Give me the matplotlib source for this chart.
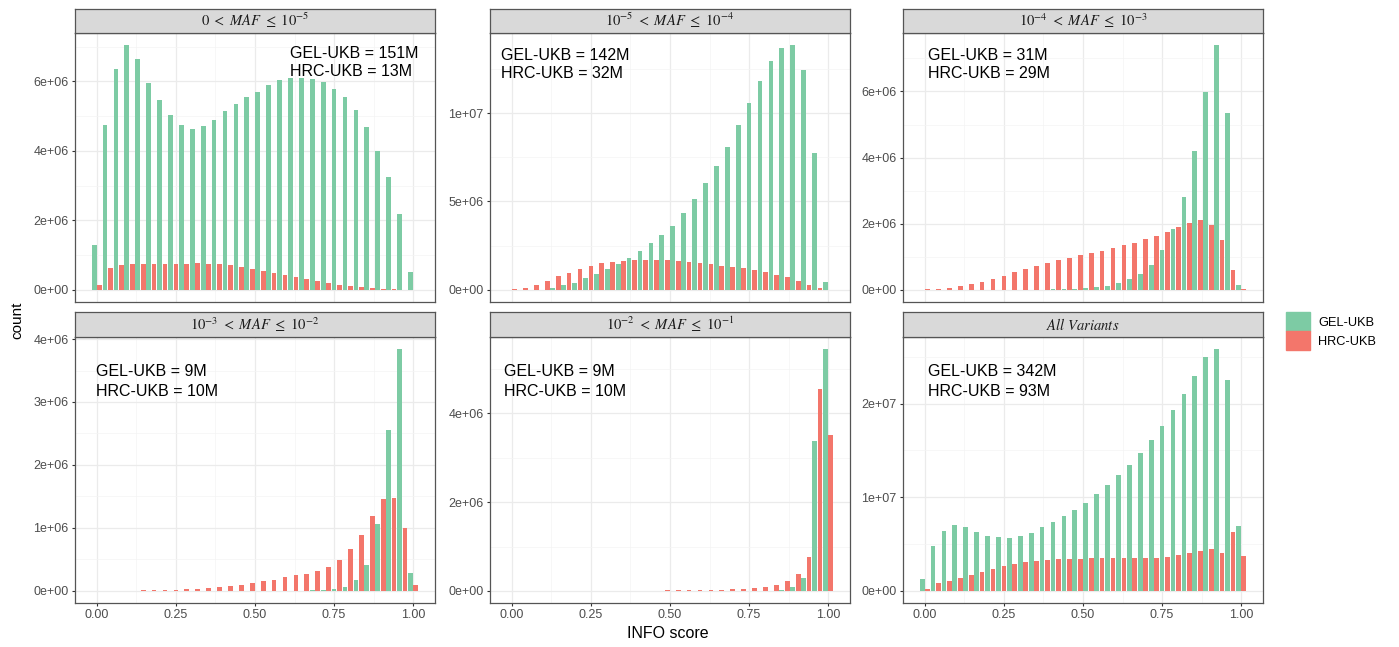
import numpy as np
import matplotlib
matplotlib.use("Agg")
import matplotlib.pyplot as plt
from matplotlib.patches import Patch
from matplotlib.ticker import FixedLocator, FuncFormatter

plt.rcParams["font.family"] = ["Liberation Sans", "DejaVu Sans"]
plt.rcParams["mathtext.fontset"] = "stix"

# 30 bins over INFO score [0, 1]; counts below are in millions
N_BINS = 30
bin_centers = np.arange(N_BINS) / (N_BINS - 1)
bin_width = 1 / (N_BINS - 1)

gel_maf5 = [1.29, 4.75, 6.37, 7.04, 6.64, 5.94, 5.45, 5.02, 4.73, 4.64,
            4.71, 4.90, 5.14, 5.35, 5.54, 5.70, 5.89, 6.03, 6.09, 6.10,
            6.08, 5.98, 5.79, 5.54, 5.17, 4.70, 4.00, 3.25, 2.19, 0.50]
hrc_maf5 = [0.15, 0.62, 0.72, 0.73, 0.73, 0.73, 0.74, 0.75, 0.75, 0.76,
            0.75, 0.74, 0.71, 0.65, 0.60, 0.54, 0.48, 0.42, 0.36, 0.30,
            0.25, 0.20, 0.15, 0.11, 0.07, 0.05, 0.03, 0.015, 0.005, 0.0]

gel_maf4 = [0.0, 0.0, 0.0, 0.0, 0.10, 0.25, 0.40, 0.65, 0.91, 1.18,
            1.45, 1.81, 2.19, 2.63, 3.09, 3.62, 4.32, 5.12, 6.02, 7.01,
            8.10, 9.31, 10.55, 11.81, 12.95, 13.71, 13.85, 12.42, 7.73, 0.42]
hrc_maf4 = [0.04, 0.11, 0.29, 0.51, 0.76, 0.97, 1.18, 1.37, 1.49, 1.58,
            1.64, 1.68, 1.68, 1.68, 1.66, 1.64, 1.58, 1.52, 1.45, 1.37,
            1.30, 1.22, 1.10, 0.99, 0.86, 0.70, 0.50, 0.29, 0.10, 0.0]

gel_maf3 = [0.0, 0.0, 0.0, 0.0, 0.0, 0.0, 0.0, 0.0, 0.0, 0.0,
            0.0, 0.0, 0.01, 0.02, 0.03, 0.05, 0.08, 0.12, 0.19, 0.33,
            0.49, 0.76, 1.20, 1.85, 2.80, 4.19, 5.97, 7.40, 5.36, 0.14]
hrc_maf3 = [0.01, 0.03, 0.05, 0.10, 0.17, 0.24, 0.33, 0.43, 0.53, 0.63,
            0.73, 0.81, 0.90, 0.97, 1.04, 1.10, 1.17, 1.25, 1.34, 1.42,
            1.53, 1.63, 1.76, 1.90, 2.03, 2.10, 1.96, 1.50, 0.61, 0.03]

gel_maf2 = [0.0, 0.0, 0.0, 0.0, 0.0, 0.0, 0.0, 0.0, 0.0, 0.0,
            0.0, 0.0, 0.0, 0.0, 0.0, 0.0, 0.0, 0.0, 0.003, 0.005,
            0.01, 0.02, 0.03, 0.07, 0.17, 0.41, 1.06, 2.55, 3.84, 0.28]
hrc_maf2 = [0.0, 0.001, 0.003, 0.005, 0.008, 0.01, 0.015, 0.02, 0.025, 0.035,
            0.045, 0.06, 0.08, 0.10, 0.13, 0.16, 0.18, 0.22, 0.25, 0.27,
            0.31, 0.38, 0.49, 0.66, 0.88, 1.19, 1.46, 1.47, 1.00, 0.10]

gel_maf1 = [0.0] * 25 + [0.01, 0.08, 0.29, 3.38, 5.45]
hrc_maf1 = [0.0, 0.0, 0.0, 0.0, 0.0, 0.0, 0.0, 0.0, 0.001, 0.002,
            0.003, 0.004, 0.006, 0.008, 0.01, 0.012, 0.015, 0.02, 0.025, 0.03,
            0.04, 0.05, 0.06, 0.08, 0.13, 0.22, 0.38, 0.76, 4.55, 3.51]

gel_all = [1.31, 4.78, 6.37, 7.08, 6.80, 6.27, 5.91, 5.73, 5.66, 5.88,
           6.23, 6.80, 7.40, 8.04, 8.67, 9.42, 10.34, 11.29, 12.35, 13.45,
           14.69, 16.07, 17.56, 19.26, 21.03, 22.97, 24.92, 25.81, 22.51, 6.90]
hrc_all = [0.18, 0.81, 1.10, 1.38, 1.70, 2.02, 2.30, 2.62, 2.83, 3.08,
           3.22, 3.33, 3.40, 3.43, 3.43, 3.47, 3.47, 3.47, 3.47, 3.47,
           3.50, 3.54, 3.65, 3.79, 4.00, 4.28, 4.42, 4.07, 6.34, 3.68]

titles = [r"$0\ <\ MAF\ \leq\ 10^{-5}$", r"$10^{-5}\ <\ MAF\ \leq\ 10^{-4}$",
          r"$10^{-4}\ <\ MAF\ \leq\ 10^{-3}$", r"$10^{-3}\ <\ MAF\ \leq\ 10^{-2}$",
          r"$10^{-2}\ <\ MAF\ \leq\ 10^{-1}$", r"$All\ Variants$"]
gel_series = [gel_maf5, gel_maf4, gel_maf3, gel_maf2, gel_maf1, gel_all]
hrc_series = [hrc_maf5, hrc_maf4, hrc_maf3, hrc_maf2, hrc_maf1, hrc_all]
gel_totals = ["151M", "142M", "31M", "9M", "9M", "342M"]
hrc_totals = ["13M", "32M", "29M", "10M", "10M", "93M"]
y_ticks = [[0, 2e6, 4e6, 6e6], [0, 5e6, 1e7], [0, 2e6, 4e6, 6e6],
           [0, 1e6, 2e6, 3e6, 4e6], [0, 2e6, 4e6], [0, 1e7, 2e7]]
x_ticks = [0.0, 0.25, 0.5, 0.75, 1.0]

GREEN = "#7DCBA4"
RED = "#F3766B"
EDGE = "#555555"
W, H = 1399, 647

# panel boxes in pixels: left, top, right, bottom
cols = [(75, 435), (490, 850), (903, 1263)]
rows = [(33, 302), (337, 603)]
strip_h = 24.5
# annotation position (left px, first line px) per panel
notes = [(290, 53), (501, 55), (928, 55), (96, 372), (504, 372), (928, 372)]

fig = plt.figure(figsize=(W / 100, H / 100), dpi=100)

sci = FuncFormatter(lambda v, _: f"{v:.0e}")

for i in range(6):
    r, c = divmod(i, 3)
    x0, x1 = cols[c]
    y0, y1 = rows[r]
    ax = fig.add_axes([x0 / W, 1 - y1 / H, (x1 - x0) / W, (y1 - y0) / H])
    gel = np.array(gel_series[i]) * 1e6
    hrc = np.array(hrc_series[i]) * 1e6
    ax.bar(bin_centers - bin_width / 4, gel, width=bin_width * 0.44, color=GREEN,
           label="GEL-UKB", zorder=3)
    ax.bar(bin_centers + bin_width / 4, hrc, width=bin_width * 0.44, color=RED,
           label="HRC-UKB", zorder=3)

    top = max(gel.max(), hrc.max())
    ax.set_ylim(-0.05 * top, 1.05 * top)
    ax.set_xlim(-0.069, 1.069)

    ax.yaxis.set_major_locator(FixedLocator(y_ticks[i]))
    yt = y_ticks[i]
    step = yt[1] - yt[0]
    ax.yaxis.set_minor_locator(FixedLocator(np.arange(step / 2, 1.05 * top, step)))
    ax.yaxis.set_major_formatter(sci)
    ax.xaxis.set_major_locator(FixedLocator(x_ticks))
    ax.xaxis.set_minor_locator(FixedLocator([0.125, 0.375, 0.625, 0.875]))
    ax.xaxis.set_major_formatter(FuncFormatter(lambda v, _: f"{v:.2f}"))

    ax.set_axisbelow(True)
    ax.grid(which="major", color="#EBEBEB", linewidth=0.9, zorder=0)
    ax.grid(which="minor", color="#F4F4F4", linewidth=0.5, zorder=0)
    for s in ax.spines.values():
        s.set_color(EDGE)
        s.set_linewidth(0.9)
    ax.tick_params(which="major", direction="out", length=2.5, width=0.8,
                   color="#333333", labelsize=9, labelcolor="#4D4D4D", pad=2)
    ax.tick_params(which="minor", length=0)
    if r == 0:
        ax.tick_params(axis="x", which="major", length=0, labelbottom=False)

    nx, ny = notes[i]
    fx = (nx - x0) / (x1 - x0)
    ax.text(fx, (y1 - ny) / (y1 - y0), f"GEL-UKB = {gel_totals[i]}",
            transform=ax.transAxes, fontsize=11.5, ha="left", va="center")
    ax.text(fx, (y1 - ny - 19) / (y1 - y0), f"HRC-UKB = {hrc_totals[i]}",
            transform=ax.transAxes, fontsize=11.5, ha="left", va="center")

    sax = fig.add_axes([x0 / W, 1 - y0 / H, (x1 - x0) / W, strip_h / H])
    sax.set_facecolor("#D9D9D9")
    sax.set_xticks([])
    sax.set_yticks([])
    for s in sax.spines.values():
        s.set_color(EDGE)
        s.set_linewidth(0.9)
    sax.text(0.5, 0.5, titles[i], transform=sax.transAxes, ha="center",
             va="center", fontsize=10.5, color="#1A1A1A")

    if i == 0:
        handles = [Patch(color=GREEN, label="GEL-UKB"), Patch(color=RED, label="HRC-UKB")]

fig.text(17 / W, 1 - 320 / H, "count", rotation=90, ha="center", va="center",
         fontsize=11)
fig.text(668 / W, 1 - 633 / H, "INFO score", ha="center", va="center",
         fontsize=11.5)

fig.legend(handles=handles, loc="center left",
           bbox_to_anchor=(1286 / W, 1 - 331 / H), frameon=False, fontsize=9.2,
           handlelength=1.85, handleheight=1.85, labelspacing=0.05,
           handletextpad=0.65, borderpad=0, borderaxespad=0)

fig.savefig("out.png", dpi=100)
